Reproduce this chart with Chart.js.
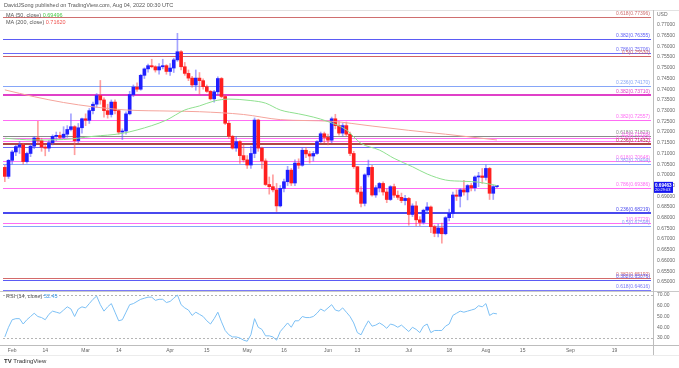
<!DOCTYPE html>
<html>
<head>
<meta charset="utf-8">
<script src="https://cdn.jsdelivr.net/npm/chart.js@4.4.0/dist/chart.umd.min.js"></script>
<style>
  html, body { margin: 0; padding: 0; background: #fff; }
  #wrap { position: relative; width: 679px; height: 368px; overflow: hidden; font-family: 'Liberation Sans', Arial, sans-serif; }
  canvas { position: absolute; left: 0; }
  .txt { position: absolute; white-space: nowrap; font-size: 5.5px; color: #555; line-height: 1; }
  .hl { position: absolute; left: 0; width: 679px; height: 1px; background: #c9c9c9; }
  .vl { position: absolute; width: 1px; background: #bdbdbd; }
</style>
</head>
<body>
<div id="wrap">
  <canvas id="main" width="679" height="281" style="top:10px"></canvas>
  <canvas id="rsi" width="679" height="77" style="top:291px"></canvas>
  <div class="hl" style="top:10px;background:#e2e2e2"></div>
  <div class="hl" style="top:291px"></div>
  <div class="hl" style="top:345px;background:#bdbdbd"></div>
  <div class="hl" style="top:355px;background:#ececec"></div>
  <div class="vl" style="left:653px;top:10px;height:345px"></div>
  <div class="txt" style="left:4px;top:3px;">DavidJSong published on TradingView.com, Aug 04, 2022 00:30 UTC</div>
  <div class="txt" style="left:6px;top:13px;">MA (50, close) <span style="color:#4cc94c">0.69496</span></div>
  <div class="txt" style="left:6px;top:20px;">MA (200, close) <span style="color:#ef5350">0.71620</span></div>
  <div class="txt" style="left:6px;top:294px;">RSI (14, close) <span style="color:#3d9be9">52.45</span></div>
  <div class="txt" style="left:4px;top:358px;font-size:6px;color:#333;"><b>TV</b> TradingView</div>
</div>
<script>
// daily candles, Jan 28 - Aug 4 2022 (weekdays)
const opens = [
  .7035,.6993,.7068,.7107,.7132,.7140,.7062,.7100,.7134,.7172,
  .7160,.7130,.7125,.7150,.7180,.7184,.7175,.7190,.7212,.7225,
  .7160,.7220,.7262,.7255,.7300,.7330,.7370,.7350,.7300,.7282,
  .7340,.7300,.7200,.7205,.7285,.7375,.7410,.7400,.7465,.7495,
  .7510,.7505,.7490,.7505,.7510,.7483,.7499,.7537,.7575,.7505,
  .7474,.7452,.7420,.7452,.7440,.7412,.7390,.7355,.7388,.7450,
  .7366,.7241,.7180,.7125,.7155,.7090,.7070,.7046,.7100,.7256,
  .7125,.7065,.6955,.6945,.6930,.6855,.6937,.6968,.7022,.6962,
  .7055,.7045,.7115,.7098,.7088,.7100,.7155,.7192,.7175,.7162,
  .7262,.7230,.7195,.7230,.7190,.7100,.7038,.6920,.6867,.7000,
  .7035,.6906,.6940,.6960,.6920,.6885,.6945,.6905,.6895,.6880,
  .6890,.6815,.6855,.6790,.6778,.6835,.6850,.6758,.6727,.6752,
  .6725,.6800,.6820,.6906,.6900,.6930,.6920,.6950,.6940,.6990,
  .6995,.6988,.7030,.6914,.6945
];
const highs = [
  .7045,.7072,.7115,.7138,.7156,.7148,.7106,.7144,.7180,.7250,
  .7171,.7140,.7162,.7187,.7200,.7200,.7225,.7230,.7285,.7230,
  .7240,.7265,.7285,.7310,.7340,.7380,.7441,.7360,.7330,.7350,
  .7350,.7305,.7215,.7295,.7390,.7420,.7430,.7470,.7500,.7518,
  .7540,.7510,.7520,.7540,.7515,.7520,.7545,.7661,.7580,.7525,
  .7490,.7460,.7490,.7478,.7448,.7420,.7395,.7395,.7458,.7455,
  .7372,.7250,.7185,.7180,.7160,.7140,.7090,.7135,.7266,.7260,
  .7130,.7075,.6990,.7000,.6960,.6950,.6980,.7040,.7030,.7070,
  .7075,.7125,.7127,.7110,.7110,.7160,.7200,.7200,.7190,.7270,
  .7283,.7250,.7240,.7247,.7200,.7110,.7040,.6945,.7005,.7069,
  .7045,.6950,.6965,.6968,.6935,.6950,.6957,.6925,.6915,.6905,
  .6895,.6865,.6875,.6805,.6840,.6870,.6855,.6765,.6770,.6775,
  .6805,.6840,.6920,.6930,.6935,.6975,.6955,.6960,.6995,.7012,
  .7030,.7047,.7035,.6952,.6950
];
const lows = [
  .6968,.6983,.7051,.7090,.7100,.7050,.7055,.7085,.7122,.7148,
  .7110,.7089,.7110,.7140,.7160,.7165,.7170,.7175,.7205,.7094,
  .7150,.7195,.7230,.7240,.7285,.7315,.7330,.7270,.7265,.7270,
  .7285,.7190,.7165,.7190,.7280,.7365,.7390,.7395,.7450,.7480,
  .7500,.7480,.7470,.7495,.7470,.7465,.7478,.7530,.7490,.7465,
  .7440,.7410,.7395,.7378,.7400,.7385,.7350,.7340,.7375,.7360,
  .7235,.7170,.7120,.7110,.7054,.7060,.7030,.7030,.7080,.7110,
  .7030,.6950,.6910,.6920,.6829,.6850,.6920,.6950,.6950,.6950,
  .7030,.7040,.7080,.7055,.7065,.7095,.7150,.7150,.7140,.7150,
  .7215,.7185,.7180,.7180,.7090,.7030,.6910,.6850,.6855,.6990,
  .6900,.6895,.6920,.6905,.6870,.6880,.6895,.6885,.6870,.6860,
  .6765,.6805,.6762,.6762,.6770,.6820,.6730,.6711,.6710,.6681,
  .6720,.6785,.6800,.6880,.6850,.6905,.6883,.6925,.6925,.6945,
  .6960,.6975,.6885,.6885,.6940
];
const closes = [
  .6993,.7068,.7107,.7132,.7140,.7062,.7100,.7134,.7172,.7160,
  .7130,.7125,.7150,.7180,.7184,.7175,.7190,.7212,.7225,.7160,
  .7220,.7262,.7255,.7300,.7330,.7370,.7350,.7300,.7282,.7340,
  .7300,.7200,.7205,.7285,.7375,.7410,.7400,.7465,.7495,.7510,
  .7505,.7490,.7505,.7510,.7483,.7499,.7537,.7575,.7505,.7474,
  .7452,.7420,.7452,.7440,.7412,.7390,.7355,.7388,.7450,.7366,
  .7241,.7180,.7125,.7155,.7090,.7070,.7046,.7100,.7256,.7125,
  .7065,.6955,.6945,.6930,.6855,.6937,.6968,.7022,.6962,.7055,
  .7045,.7115,.7098,.7088,.7100,.7155,.7192,.7175,.7162,.7262,
  .7230,.7195,.7230,.7190,.7100,.7038,.6920,.6867,.7000,.7035,
  .6906,.6940,.6960,.6920,.6885,.6945,.6905,.6895,.6880,.6890,
  .6815,.6855,.6790,.6778,.6835,.6850,.6758,.6727,.6752,.6725,
  .6800,.6820,.6906,.6900,.6930,.6920,.6950,.6940,.6990,.6995,
  .6988,.7030,.6914,.6945,.69463
];

// moving averages, read at a few bars (index, value)
const ma50Idx = [0, 8, 16, 24, 32, 40, 44, 49, 53, 57, 61, 67, 71, 75, 80, 84, 88, 93, 97, 102, 106, 111, 115, 120, 125, 129, 134];
const ma50Val = [.7171, .7163, .7165, .7180, .7194, .7230, .7256, .7303, .7322, .7345, .7354, .7347, .7335, .7303, .7285, .7270, .7249, .7210, .7147, .7116, .7077, .7038, .7004, .6976, .6970, .6966, .6950];
const ma200Idx = [0, 8, 16, 24, 33, 45, 53, 65, 75, 89, 100, 110, 120, 134];
const ma200Val = [.7397, .7365, .7338, .7318, .7303, .7298, .7295, .7282, .7258, .7250, .7228, .7208, .7190, .7163];

const rsi = [
  31,40,47,48,48,43,47,50,53,50,
  49,47,52,55,54,53,56,59,57,50,
  57,59,58,62,66,69,61,55,59,62,
  54,46,47,54,61,62,64,66,67,68,
  68,65,66,66,63,64,67,70,61,58,
  56,51,54,52,50,46,43,48,54,45,
  37,33,31,31,30,28,27,33,48,40,
  38,32,32,31,28,36,40,44,40,46,
  46,50,49,49,50,53,57,55,58,61,
  56,55,58,54,50,44,35,33,40,46,
  41,42,44,42,39,43,42,40,42,39,
  36,40,38,35,41,43,35,37,37,37,
  41,43,51,53,55,54,55,56,57,60,
  59,62,51,53,52.45
];
const rsiBands = [30, 70];
const rsiTicks = [30, 40, 50, 60, 70];

// fibonacci levels drawn on the chart
const fibLevels = [.77396, .76355, .75706, .75530, .74170, .73710, .72557, .71823, .71708, .71582, .71432, .71302, .70648, .70494, .69386, .68219, .67729, .67598, .65192, .65076, .64616];
const fibNames = ['0.618', '0.382', '0.786', '0.5', '0.236', '0.382', '0.382', '0.618', '0.5', '0.236', '0.236', '', '0.618', '0.382', '0.786', '0.236', '1', '0.5', '0.382', '0.382', '0.618'];

const priceTicks = [];
for (let v = 650; v <= 770; v += 5) priceTicks.push(v / 1000);

const tickDates = ['2022-02-01','2022-02-14','2022-03-01','2022-03-14','2022-04-01','2022-04-15','2022-05-02','2022-05-16','2022-06-01','2022-06-13','2022-07-01','2022-07-18','2022-08-01','2022-08-15','2022-09-01','2022-09-19'];
const tickText = ['Feb','14','Mar','14','Apr','15','May','16','Jun','13','Jul','18','Aug','15','Sep','19'];

// weekday calendar, also the empty space to the right
const dates = [];
const d0 = new Date(Date.UTC(2022, 0, 28));
while (dates.length < 177) {
  const wd = d0.getUTCDay();
  if (wd !== 0 && wd !== 6) dates.push(d0.toISOString().slice(0, 10));
  d0.setUTCDate(d0.getUTCDate() + 1);
}

// styles
const UP = '#1f1fff', DN = '#ff1f1f';
const UPW = 'rgba(90,90,255,0.55)', DNW = 'rgba(255,80,80,0.55)';
const fibColors = ['#cf6f6f', '#5b5bf5', '#6a6af5', '#d46262', '#86a6f8', '#e040c8', '#ff6cf4', '#8a8a8a', '#ff72f2', '#ff72f2', '#b04646', '#6a6af8', '#ff72f2', '#86a6f8', '#ff6cf4', '#4848ee', '#ff6cf4', '#86a6f8', '#d46a6a', '#5b5bf5', '#7a7af8'];
const fibWidths = [1, 1, 1, 1, 1, 2, 1, 1, 1, 1, 2, 1, 1, 1, 1, 2, 1, 1, 1, 1, 1];
const FONT = "'Liberation Sans', Arial, sans-serif";

function sparse(idx, val) {
  const out = new Array(closes.length).fill(null);
  idx.forEach((k, i) => { out[k] = val[i]; });
  return out;
}

const isUp = i => closes[i] >= opens[i];

const fibPlugin = {
  id: 'fib',
  beforeDatasetsDraw(chart) {
    const { ctx, chartArea: a, scales: { y } } = chart;
    ctx.save();
    ctx.font = '5px ' + FONT;
    ctx.textAlign = 'right';
    ctx.textBaseline = 'bottom';
    fibLevels.forEach((lv, i) => {
      const py = Math.round(y.getPixelForValue(lv)) + (fibWidths[i] % 2 ? 0.5 : 0);
      ctx.strokeStyle = fibColors[i];
      ctx.lineWidth = fibWidths[i];
      ctx.beginPath();
      ctx.moveTo(a.left, py);
      ctx.lineTo(a.right - 2, py);
      ctx.stroke();
      if (fibNames[i]) {
        ctx.fillStyle = fibColors[i];
        ctx.fillText(fibNames[i] + '(' + lv.toFixed(5) + ')', a.right - 3, py - 1);
      }
    });
    ctx.restore();
  },
  afterDraw(chart) {
    const { ctx, chartArea: a, scales: { y } } = chart;
    const last = closes[closes.length - 1];
    const py = y.getPixelForValue(last);
    ctx.save();
    ctx.fillStyle = '#1515f0';
    ctx.fillRect(a.right, py - 4.5, 20, 11);
    ctx.fillStyle = '#fff';
    ctx.textAlign = 'left';
    ctx.textBaseline = 'middle';
    ctx.font = 'bold 4.6px ' + FONT;
    ctx.fillText(last.toFixed(5), a.right + 2, py - 1);
    ctx.font = '4px ' + FONT;
    ctx.fillText('20:29:03', a.right + 2, py + 3.5);
    ctx.fillStyle = '#666';
    ctx.font = '5px ' + FONT;
    ctx.fillText('USD', a.right + 4, 5);
    ctx.restore();
  }
};

new Chart(document.getElementById('main'), {
  type: 'bar',
  data: {
    labels: dates,
    datasets: [
      {
        type: 'line', data: sparse(ma50Idx, ma50Val), borderColor: '#8fe08f', borderWidth: 1,
        pointRadius: 0, spanGaps: true, tension: 0.4, cubicInterpolationMode: 'monotone', order: 0
      },
      {
        type: 'line', data: sparse(ma200Idx, ma200Val), borderColor: '#f5a49c', borderWidth: 1,
        pointRadius: 0, spanGaps: true, tension: 0.4, cubicInterpolationMode: 'monotone', order: 0
      },
      {
        data: opens.map((o, i) => [o, closes[i]]),
        backgroundColor: c => isUp(c.dataIndex) ? UP : DN,
        barThickness: 3, minBarLength: 1, grouped: false, order: 1
      },
      {
        data: lows.map((l, i) => [l, highs[i]]),
        backgroundColor: c => isUp(c.dataIndex) ? UPW : DNW,
        barThickness: 1, grouped: false, order: 2
      }
    ]
  },
  options: {
    responsive: false,
    animation: false,
    events: [],
    layout: { padding: { left: 3, right: 0, top: 0, bottom: 0 } },
    plugins: { legend: { display: false }, tooltip: { enabled: false } },
    scales: {
      x: { display: false, offset: true },
      y: {
        position: 'right',
        min: 0.645759,
        max: 0.777006,
        afterBuildTicks: s => { s.ticks = priceTicks.map(v => ({ value: v })); },
        afterFit: s => { s.width = 26; s.paddingTop = 0; s.paddingBottom = 0; },
        grid: { display: false, drawTicks: false },
        border: { display: false },
        ticks: { padding: 4, color: '#666', font: { size: 5, family: FONT }, callback: v => v.toFixed(5) }
      }
    }
  },
  plugins: [fibPlugin]
});

const bandPlugin = {
  id: 'bands',
  beforeDatasetsDraw(chart) {
    const { ctx, chartArea: a, scales: { y } } = chart;
    ctx.save();
    ctx.strokeStyle = '#b5b5b5';
    ctx.lineWidth = 1;
    ctx.setLineDash([2, 2]);
    rsiBands.forEach(v => {
      const py = Math.round(y.getPixelForValue(v)) + 0.5;
      ctx.beginPath();
      ctx.moveTo(a.left, py);
      ctx.lineTo(a.right, py);
      ctx.stroke();
    });
    ctx.restore();
  }
};

new Chart(document.getElementById('rsi'), {
  type: 'line',
  data: {
    labels: dates,
    datasets: [{ data: rsi, borderColor: '#7cc0f5', borderWidth: 1, pointRadius: 0, tension: 0 }]
  },
  options: {
    responsive: false,
    animation: false,
    events: [],
    layout: { padding: { left: 3, right: 0, top: 0, bottom: 13 } },
    plugins: { legend: { display: false }, tooltip: { enabled: false } },
    scales: {
      x: {
        offset: true,
        grid: { display: false, drawTicks: false },
        border: { display: false },
        afterFit: s => { s.height = 10; s.paddingLeft = 0; s.paddingRight = 0; },
        ticks: {
          autoSkip: false, maxRotation: 0, minRotation: 0, padding: 3,
          color: '#666', font: { size: 5, family: FONT },
          callback: (v, i) => {
            const k = tickDates.indexOf(dates[i]);
            return k >= 0 ? tickText[k] : '';
          }
        }
      },
      y: {
        position: 'right',
        min: 23.49,
        max: 73.72,
        afterBuildTicks: s => { s.ticks = rsiTicks.map(v => ({ value: v })); },
        afterFit: s => { s.width = 26; s.paddingTop = 0; s.paddingBottom = 0; },
        grid: { display: false, drawTicks: false },
        border: { display: false },
        ticks: { padding: 4, color: '#666', font: { size: 5, family: FONT }, callback: v => v.toFixed(2) }
      }
    }
  },
  plugins: [bandPlugin]
});
</script>
</body>
</html>
